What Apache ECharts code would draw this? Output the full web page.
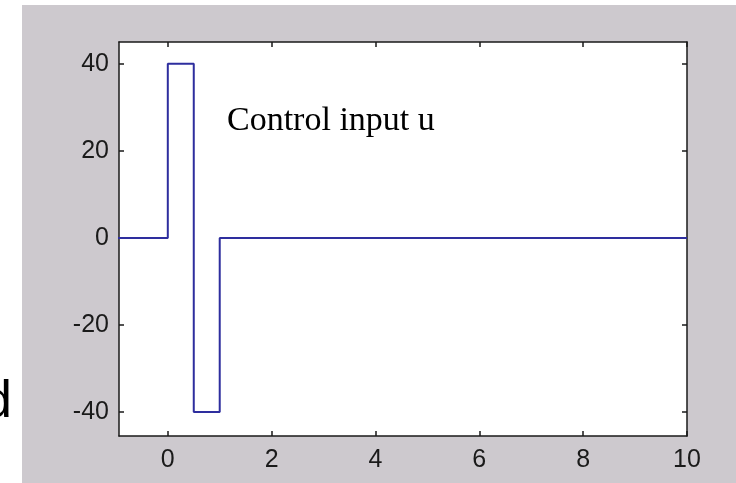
<!DOCTYPE html>
<html>
<head>
<meta charset="utf-8">
<script src="https://cdn.jsdelivr.net/npm/echarts@6/dist/echarts.min.js"></script>
<style>
  html, body { margin: 0; padding: 0; background: #ffffff; }
  #chart { width: 736px; height: 483px; }
</style>
</head>
<body>
<div id="chart"></div>
<script>
// Control input u(t): a +40 / -40 pulse pair, then zero
const timeValues = [-1, 0, 0, 0.5, 0.5, 1, 1, 10];
const controlValues = [0, 0, 40, 40, -40, -40, 0, 0];
const xTicks = [0, 2, 4, 6, 8, 10];
const yTicks = [-40, -20, 0, 20, 40];
const annotation = 'Control input u';

const chart = echarts.init(document.getElementById('chart'));

const labelFont = {
  fontFamily: '"Liberation Sans", Arial, sans-serif',
  fontSize: 25,
  color: '#1a1a1a'
};
const axisLine = { show: true, onZero: false, lineStyle: { color: '#1a1a1a', width: 1.5 } };
const tick = (vals) => ({
  show: true, inside: true, length: 5, customValues: vals,
  lineStyle: { color: '#1a1a1a', width: 1.5 }
});

const seriesData = timeValues.map((t, i) => [t, controlValues[i]]);

chart.setOption({
  backgroundColor: '#ffffff',
  animation: false,
  graphic: [
    {
      type: 'rect', z: -10, silent: true,
      shape: { x: 22, y: 5, width: 736, height: 483 },
      style: { fill: '#cdc9ce' }
    },
    {
      type: 'text', z: 10,
      left: -17, top: 377,
      style: { text: 'd', font: '52px "Liberation Sans", Arial, sans-serif', fill: '#000000' }
    },
    {
      type: 'text', z: 10,
      left: 227, top: 104,
      style: { text: annotation, font: '34px "Liberation Serif", "Times New Roman", serif', fill: '#000000' }
    }
  ],
  grid: {
    left: 119, right: 49, top: 42, bottom: 47,
    show: true, backgroundColor: '#ffffff', borderWidth: 0
  },
  xAxis: [
    {
      type: 'value', position: 'bottom', min: -0.94, max: 10,
      axisLine: axisLine, axisTick: tick(xTicks),
      axisLabel: Object.assign({ customValues: xTicks, margin: 12 }, labelFont),
      splitLine: { show: false }
    },
    {
      type: 'value', position: 'top', min: -0.94, max: 10,
      axisLine: axisLine, axisTick: tick(xTicks),
      axisLabel: { show: false }, splitLine: { show: false }
    }
  ],
  yAxis: [
    {
      type: 'value', position: 'left', min: -45.5, max: 45,
      axisLine: axisLine, axisTick: tick(yTicks),
      axisLabel: Object.assign({ customValues: yTicks, margin: 10 }, labelFont),
      splitLine: { show: false }
    },
    {
      type: 'value', position: 'right', min: -45.5, max: 45,
      axisLine: axisLine, axisTick: tick(yTicks),
      axisLabel: { show: false }, splitLine: { show: false }
    }
  ],
  series: [
    {
      type: 'line',
      xAxisIndex: 0, yAxisIndex: 0,
      data: seriesData,
      showSymbol: false,
      lineStyle: { color: '#2e2e9e', width: 2 }
    }
  ]
});
</script>
</body>
</html>
